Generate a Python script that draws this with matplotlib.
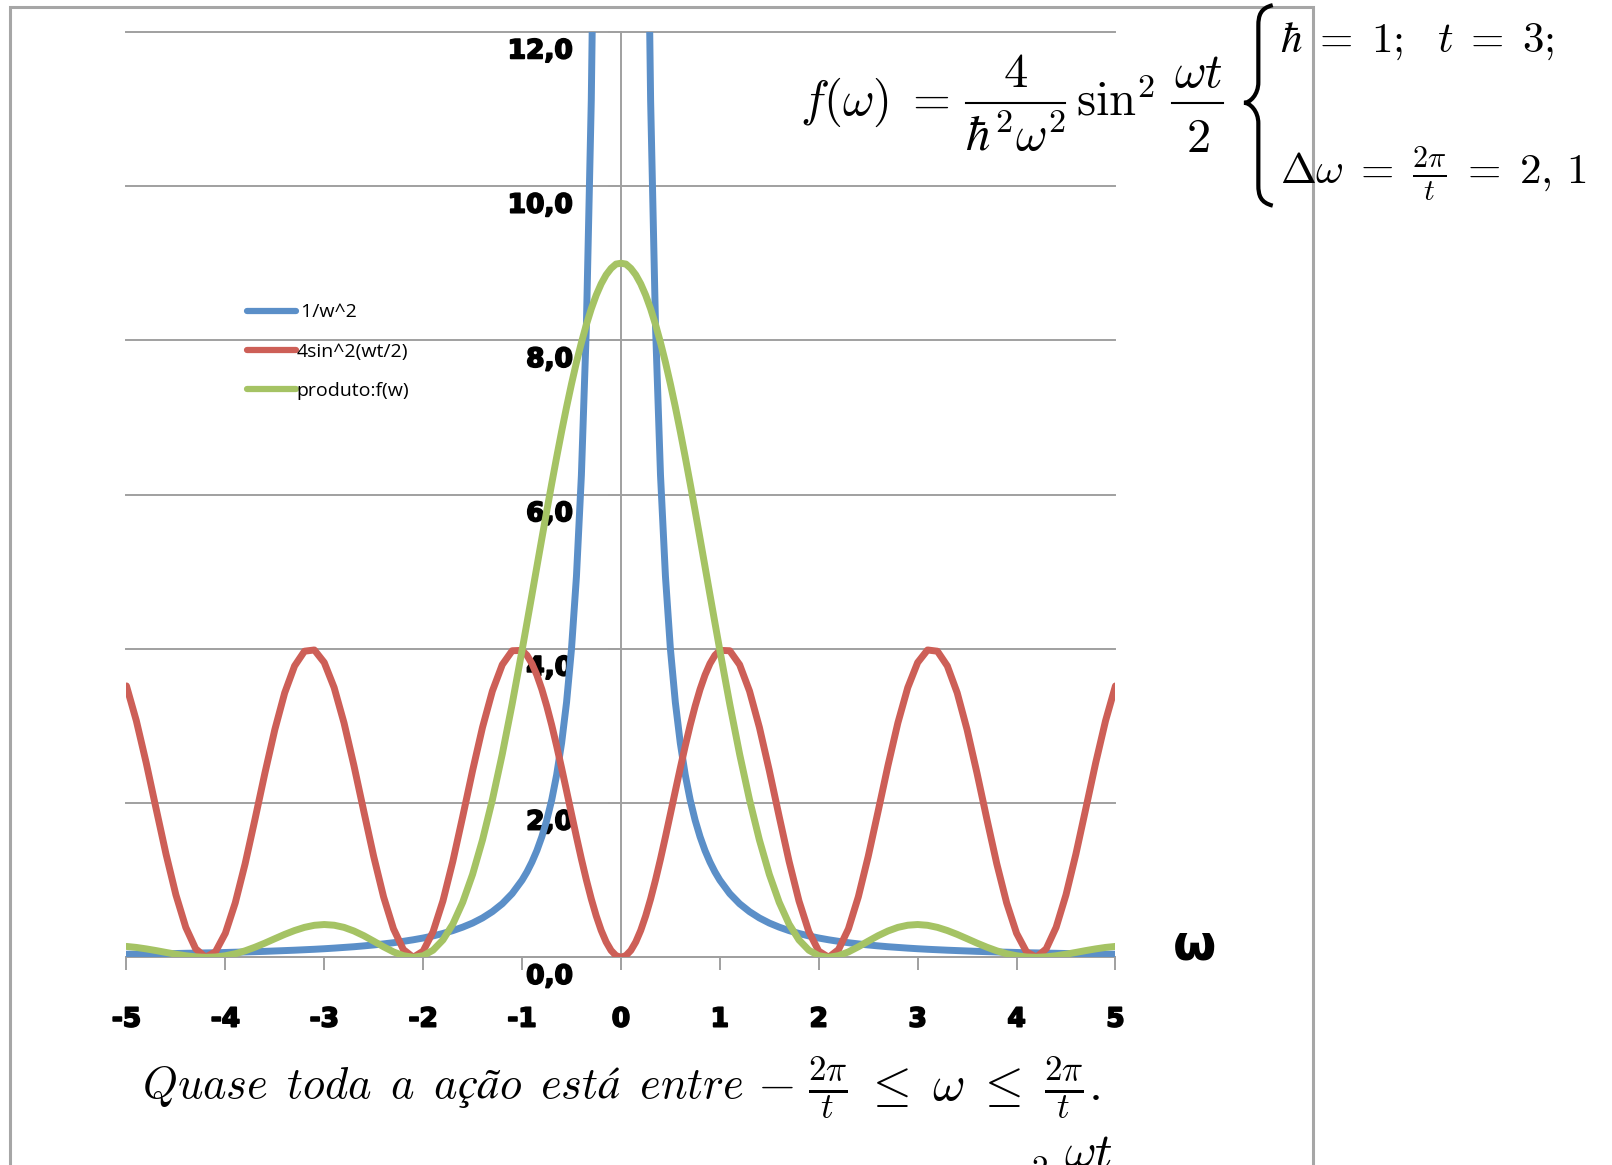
"""
Excel-style plot of 1/w^2, 4 sin^2(wt/2) and their product f(w), t = 3
"""
import matplotlib
matplotlib.use("Agg")
import matplotlib.pyplot as plt
import matplotlib.patheffects as pe
import numpy as np
from matplotlib.patches import Rectangle, PathPatch
from matplotlib.path import Path
from matplotlib.lines import Line2D
from matplotlib.transforms import ScaledTranslation

plt.rcParams["mathtext.fontset"] = "cm"

# ── data ────────────────────────────────────────────────────────
w = [-5.0, -4.9, -4.8, -4.7, -4.6, -4.5, -4.4, -4.3, -4.2, -4.1,
     -4.0, -3.9, -3.8, -3.7, -3.6, -3.5, -3.4, -3.3, -3.2, -3.1,
     -3.0, -2.9, -2.8, -2.7, -2.6, -2.5, -2.4, -2.3, -2.2, -2.1,
     -2.0, -1.9, -1.8, -1.7, -1.6, -1.5, -1.4, -1.3, -1.2, -1.1,
     -1.0, -0.95, -0.9, -0.85, -0.8, -0.75, -0.7, -0.65, -0.6, -0.55,
     -0.5, -0.45, -0.4, -0.35, -0.3, -0.25, -0.2, -0.15, -0.1, -0.05,
     0.0,
     0.05, 0.1, 0.15, 0.2, 0.25, 0.3, 0.35, 0.4, 0.45, 0.5,
     0.55, 0.6, 0.65, 0.7, 0.75, 0.8, 0.85, 0.9, 0.95, 1.0,
     1.1, 1.2, 1.3, 1.4, 1.5, 1.6, 1.7, 1.8, 1.9, 2.0,
     2.1, 2.2, 2.3, 2.4, 2.5, 2.6, 2.7, 2.8, 2.9, 3.0,
     3.1, 3.2, 3.3, 3.4, 3.5, 3.6, 3.7, 3.8, 3.9, 4.0,
     4.1, 4.2, 4.3, 4.4, 4.5, 4.6, 4.7, 4.8, 4.9, 5.0]

inv_w2 = [0.040, 0.042, 0.043, 0.045, 0.047, 0.049, 0.052, 0.054, 0.057, 0.059,
          0.0625, 0.066, 0.069, 0.073, 0.077, 0.082, 0.087, 0.092, 0.098, 0.104,
          0.111, 0.119, 0.128, 0.137, 0.148, 0.160, 0.174, 0.189, 0.207, 0.227,
          0.250, 0.277, 0.309, 0.346, 0.391, 0.444, 0.510, 0.592, 0.694, 0.826,
          1.000, 1.108, 1.235, 1.384, 1.563, 1.778, 2.041, 2.367, 2.778, 3.306,
          4.000, 4.938, 6.250, 8.163, 11.11, 16.00, 25.0, 44.44, 100.0, 400.0,
          np.nan,
          400.0, 100.0, 44.44, 25.0, 16.00, 11.11, 8.163, 6.250, 4.938, 4.000,
          3.306, 2.778, 2.367, 2.041, 1.778, 1.563, 1.384, 1.235, 1.108, 1.000,
          0.826, 0.694, 0.592, 0.510, 0.444, 0.391, 0.346, 0.309, 0.277, 0.250,
          0.227, 0.207, 0.189, 0.174, 0.160, 0.148, 0.137, 0.128, 0.119, 0.111,
          0.104, 0.098, 0.092, 0.087, 0.082, 0.077, 0.073, 0.069, 0.066, 0.0625,
          0.059, 0.057, 0.054, 0.052, 0.049, 0.047, 0.045, 0.043, 0.042, 0.040]

sin2 = [3.519, 3.067, 2.520, 1.926, 1.338, 0.810, 0.388, 0.110, 0.001, 0.071,
        0.312, 0.705, 1.213, 1.792, 2.389, 2.951, 3.429, 3.778, 3.969, 3.985,
        3.822, 3.497, 3.039, 2.487, 1.892, 1.307, 0.783, 0.369, 0.100, 0.000,
        0.080, 0.331, 0.731, 1.244, 1.825, 2.422, 2.981, 3.452, 3.794, 3.975,
        3.980, 3.916, 3.808, 3.660, 3.475, 3.256, 3.010, 2.740, 2.454, 2.158,
        1.859, 1.562, 1.275, 1.005, 0.757, 0.537, 0.349, 0.199, 0.089, 0.022,
        0.000,
        0.022, 0.089, 0.199, 0.349, 0.537, 0.757, 1.005, 1.275, 1.562, 1.859,
        2.158, 2.454, 2.740, 3.010, 3.256, 3.475, 3.660, 3.808, 3.916, 3.980,
        3.975, 3.794, 3.452, 2.981, 2.422, 1.825, 1.244, 0.731, 0.331, 0.080,
        0.000, 0.100, 0.369, 0.783, 1.307, 1.892, 2.487, 3.039, 3.497, 3.822,
        3.985, 3.969, 3.778, 3.429, 2.951, 2.389, 1.792, 1.213, 0.705, 0.312,
        0.071, 0.001, 0.110, 0.388, 0.810, 1.338, 1.926, 2.520, 3.067, 3.519]

produto = [0.141, 0.128, 0.109, 0.087, 0.063, 0.040, 0.020, 0.006, 0.000, 0.004,
           0.020, 0.046, 0.084, 0.131, 0.184, 0.241, 0.297, 0.347, 0.388, 0.415,
           0.425, 0.416, 0.388, 0.341, 0.280, 0.209, 0.136, 0.070, 0.021, 0.000,
           0.020, 0.092, 0.225, 0.430, 0.713, 1.076, 1.521, 2.043, 2.634, 3.285,
           3.980, 4.339, 4.701, 5.066, 5.429, 5.789, 6.142, 6.486, 6.818, 7.135,
           7.434, 7.715, 7.970, 8.203, 8.409, 8.586, 8.733, 8.849, 8.933, 8.989,
           9.000,
           8.989, 8.933, 8.849, 8.733, 8.586, 8.409, 8.203, 7.970, 7.715, 7.434,
           7.135, 6.818, 6.486, 6.142, 5.789, 5.429, 5.066, 4.701, 4.339, 3.980,
           3.285, 2.634, 2.043, 1.521, 1.076, 0.713, 0.430, 0.225, 0.092, 0.020,
           0.000, 0.021, 0.070, 0.136, 0.209, 0.280, 0.341, 0.388, 0.416, 0.425,
           0.415, 0.388, 0.347, 0.297, 0.241, 0.184, 0.131, 0.084, 0.046, 0.020,
           0.004, 0.000, 0.006, 0.020, 0.040, 0.063, 0.087, 0.109, 0.128, 0.141]

series_labels = [" 1/w^2", "4sin^2(wt/2)", "produto:f(w)"]
x_ticks = [-5, -4, -3, -2, -1, 0, 1, 2, 3, 4, 5]
x_ticklabels = ["-5", "-4", "-3", "-2", "-1", "0", "1", "2", "3", "4", "5"]
y_ticks = [0, 2, 4, 6, 8, 10, 12]
y_ticklabels = ["0,0", "2,0", "4,0", "6,0", "8,0", "10,0", "12,0"]

# ── colours ─────────────────────────────────────────────────────
C_BLUE  = "#5B8FC8"
C_RED   = "#CD5F57"
C_GREEN = "#A5C364"
C_GRID  = "#A0A0A0"
C_FRAME = "#A6A6A6"

W, H = 1612, 1165
fig = plt.figure(figsize=(W / 100, H / 100), dpi=100)
fig.patch.set_facecolor("white")

def fx(px):   # reference x (1568 wide view) -> figure fraction
    return px / 1568

def fy(py):   # reference y (1133 high view) -> figure fraction
    return 1 - py / 1133

# slide frame
fig.add_artist(Rectangle((fx(10), -0.2), fx(1277) - fx(10), fy(7) + 0.2,
                         transform=fig.transFigure, fill=False,
                         edgecolor=C_FRAME, lw=2.2))

ax = fig.add_axes([fx(123), fy(931), fx(1085) - fx(123), fy(31) - fy(931)])
ax.set_xlim(-5, 5)
ax.set_ylim(0, 12)

for vals, col, lab in [(inv_w2, C_BLUE, series_labels[0]),
                       (sin2, C_RED, series_labels[1]),
                       (produto, C_GREEN, series_labels[2])]:
    ax.plot(w, vals, color=col, lw=5, label=lab, solid_capstyle="round",
            solid_joinstyle="round", zorder=3)

# axes crossing at the origin, Excel style
for s in ["top", "right"]:
    ax.spines[s].set_visible(False)
ax.spines["left"].set_position(("data", 0))
ax.spines["bottom"].set_position(("data", 0))
for s in ["left", "bottom"]:
    ax.spines[s].set_color(C_GRID)
    ax.spines[s].set_linewidth(1.4)
    ax.spines[s].set_zorder(1)

heavy = [pe.withStroke(linewidth=1.3, foreground="black")]

ax.set_yticks(y_ticks)
ax.yaxis.grid(True, color=C_GRID, lw=1.4, zorder=0)
for gl in ax.get_ygridlines():
    gl.set_clip_on(False)
ax.set_axisbelow(True)
ax.set_yticklabels(y_ticklabels, fontsize=19, fontweight="heavy", color="black")
ax.tick_params(axis="y", direction="out", length=9.5, width=1.4, color=C_GRID, pad=25)
for lab in ax.get_yticklabels():
    lab.set_transform(lab.get_transform() + ScaledTranslation(0, -0.165, fig.dpi_scale_trans))
    lab.set_path_effects(heavy)

ax.set_xticks(x_ticks)
ax.set_xticklabels(x_ticklabels, fontsize=19, fontweight="heavy", color="black")
ax.tick_params(axis="x", direction="out", length=9.5, width=1.4, color=C_GRID, pad=26)
for lab in ax.get_xticklabels():
    lab.set_path_effects(heavy)

leg = ax.legend(loc="upper left", bbox_to_anchor=(fx(240), fy(295)),
                bbox_transform=fig.transFigure, frameon=False,
                prop={"family": "Open Sans", "size": 14},
                handlelength=2.55, handletextpad=0.0, labelspacing=1.1,
                borderpad=0, borderaxespad=0)
for ln in leg.get_lines():
    ln.set_linewidth(4.5)
    ln.set_solid_capstyle("round")

# omega axis label
fig.text(fx(1162), fy(920), "ω", fontsize=36, fontweight="bold",
         ha="center", va="center")

# ── formula f(w) built piece by piece (LaTeX display layout) ────
FS = 35
def mt(x, y, s, ha="left", size=FS):
    fig.text(fx(x), fy(y), s, fontsize=size, ha=ha, va="baseline")

def bar(x0, x1, y):
    fig.add_artist(Line2D([fx(x0), fx(x1)], [fy(y), fy(y)],
                          transform=fig.transFigure, color="black", lw=1.5))

mt(778, 112, r"$f(\omega)\;=$")
mt(988, 85, r"$4$", ha="center")
bar(940, 1036, 100)
mt(988, 147, r"$\hbar^2\omega^2$", ha="center")
mt(1047, 112, r"$\sin^2$")
mt(1165, 85, r"$\omega t$", ha="center")
bar(1140, 1190, 100)
mt(1165, 148, r"$2$", ha="center")

fig.text(fx(1245), fy(40), r"$\hbar\;=\;1;\ \ t\;=\;3;$",
         fontsize=31, ha="left", va="center")
fig.text(fx(1245), fy(170), r"$\Delta\omega\;=\;\frac{2\pi}{t}\;=\;2,\,1$",
         fontsize=31, ha="left", va="center")

# brace
bx = [1238, 1226, 1224, 1224, 1224, 1224, 1216, 1210, 1216, 1224, 1224,
      1224, 1224, 1226, 1238]
by = [5, 8, 15, 25, 80, 92, 100, 100, 100, 108, 120, 180, 190, 197, 200]
codes = [Path.MOVETO, Path.CURVE4, Path.CURVE4, Path.CURVE4, Path.LINETO,
         Path.CURVE4, Path.CURVE4, Path.CURVE4, Path.CURVE4, Path.CURVE4,
         Path.CURVE4, Path.LINETO, Path.CURVE4, Path.CURVE4, Path.CURVE4]
brace = Path([(fx(a), fy(b)) for a, b in zip(bx, by)], codes)
fig.add_artist(PathPatch(brace, transform=fig.transFigure, fill=False,
                         edgecolor="black", lw=3))

# caption
fig.text(fx(138), fy(1057),
         r"$\mathit{Quase\ \,toda\ \,a\ \,ação\ \,está\ \,entre}$",
         fontsize=32, ha="left", va="center")
fig.text(fx(1070), fy(1057),
         r"$-\;\frac{2\pi}{t}\;\leq\;\omega\;\leq\;\frac{2\pi}{t}.$",
         fontsize=36, ha="right", va="center")
# next line of the slide, cut off by the page edge
mt(1000, 1172, r"$\sin$", ha="right")
mt(1003, 1146, r"$2$", size=24)
mt(1058, 1135, r"$\omega t$", ha="center")

fig.savefig("out.png", dpi=100, facecolor="white")
